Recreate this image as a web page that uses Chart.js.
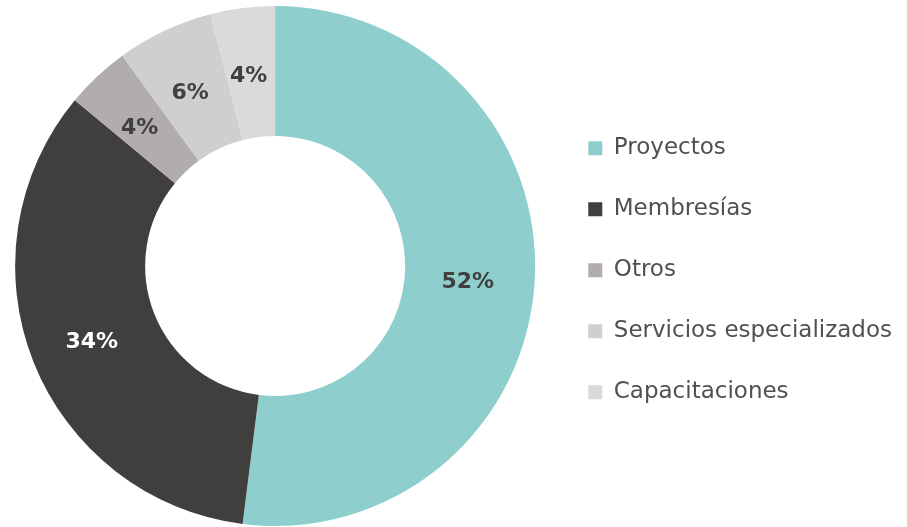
<!DOCTYPE html>
<html>
<head>
<meta charset="utf-8">
<script src="https://cdn.jsdelivr.net/npm/chart.js@4/dist/chart.umd.min.js"></script>
<style>
  html, body { margin: 0; padding: 0; background: #fff; }
  #wrap { width: 907px; height: 527px; }
</style>
</head>
<body>
<div id="wrap"><canvas id="grafico"></canvas></div>
<script>
// datos del gráfico
const categorias = ['Proyectos', 'Membresías', 'Otros', 'Servicios especializados', 'Capacitaciones'];
const porcentajes = [52, 34, 4, 6, 4];
const colores = ['#8ecfcd', '#403f3d', '#b0adac', '#d0cfd0', '#dadada'];
const coloresEtiqueta = ['#404040', '#ffffff', '#404040', '#404040', '#404040'];

// etiquetas de porcentaje dentro de cada segmento
const etiquetasPlugin = {
    id: 'etiquetas',
    afterDatasetsDraw(chart) {
        const { ctx } = chart;
        const meta = chart.getDatasetMeta(0);
        ctx.save();
        ctx.font = 'bold 22px "DejaVu Sans", sans-serif';
        ctx.textAlign = 'center';
        ctx.textBaseline = 'middle';
        meta.data.forEach((arc, i) => {
            const pos = arc.tooltipPosition();
            ctx.fillStyle = coloresEtiqueta[i];
            ctx.fillText(porcentajes[i] + '%', pos.x - 2, pos.y + 4);
        });
        ctx.restore();
    }
};

const ctx = document.getElementById('grafico').getContext('2d');
new Chart(ctx, {
    type: 'doughnut',
    data: {
        labels: categorias,
        datasets: [{
            data: porcentajes,
            backgroundColor: colores,
            borderWidth: 0
        }]
    },
    options: {
        responsive: true,
        maintainAspectRatio: false,
        animation: false,
        cutout: '50%',
        layout: {
            padding: { top: 6, bottom: 1, left: 0, right: 5 }
        },
        plugins: {
            legend: {
                position: 'right',
                // titulo vacío solo para bajar un poco la leyenda
                title: {
                    display: true,
                    text: ' ',
                    padding: 0,
                    font: { size: 7 }
                },
                labels: {
                    boxWidth: 14,
                    boxHeight: 14,
                    padding: 38,
                    color: '#505050',
                    font: { family: '"DejaVu Sans"', size: 23, weight: 'normal' }
                }
            },
            tooltip: { enabled: false }
        }
    },
    plugins: [etiquetasPlugin]
});
</script>
</body>
</html>
